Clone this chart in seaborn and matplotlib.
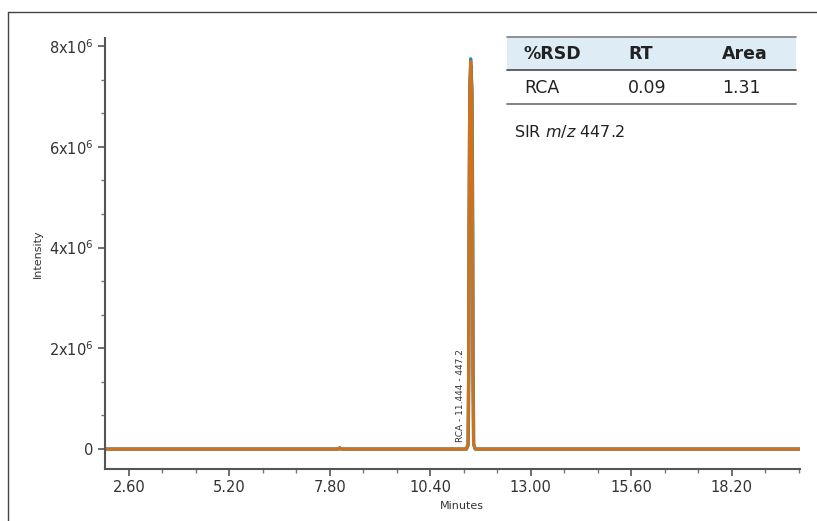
import numpy as np
import pandas as pd
import seaborn as sns
import matplotlib.pyplot as plt
from matplotlib.lines import Line2D
from matplotlib.patches import Rectangle
from matplotlib.ticker import FuncFormatter, AutoMinorLocator, FixedLocator

# --- data (intensity in units of 1e6) ---
time_min = [1.98, 8.02, 8.05, 8.08, 11.33, 11.372, 11.388, 11.398, 11.418,
            11.444, 11.470, 11.490, 11.500, 11.516, 11.558, 19.96]
int_blue = [0, 0, 0.02, 0, 0, 0.10, 1.50, 4.55, 7.25, 7.75, 7.20, 4.50, 1.45, 0.10, 0, 0]
int_teal = [0, 0, 0.02, 0, 0, 0.08, 1.40, 4.40, 7.10, 7.62, 7.05, 4.40, 1.40, 0.08, 0, 0]
int_orange = [0, 0, 0.03, 0, 0, 0.10, 1.48, 4.50, 7.18, 7.70, 7.12, 4.45, 1.42, 0.10, 0, 0]

x_ticks = [2.6, 5.2, 7.8, 10.4, 13.0, 15.6, 18.2]
y_ticks = [0, 2e6, 4e6, 6e6, 8e6]

table_header = ["%RSD", "RT", "Area"]
table_row = ["RCA", "0.09", "1.31"]

reps = ["rep1", "rep2", "rep3"]
colors = {"rep1": "#1b8ac4", "rep2": "#3b8c8f", "rep3": "#d2711b"}
shifts = {"rep1": 0.0, "rep2": 0.01, "rep3": 0.0}  # small RT offset between injections

frames = []
for rep, vals in zip(reps, [int_blue, int_teal, int_orange]):
    frames.append(pd.DataFrame({"time": np.array(time_min) + shifts[rep],
                                "intensity": np.array(vals) * 1e6,
                                "rep": rep}))
df = pd.concat(frames, ignore_index=True)

# --- plot ---
sns.set_style("ticks")
plt.rcParams["font.family"] = ["DejaVu Sans"]

fig = plt.figure(figsize=(8.17, 5.21), dpi=100)
ax = fig.add_axes([0.1285, 0.0998, 0.8505, 0.8272])

sns.lineplot(data=df, x="time", y="intensity", hue="rep", palette=colors,
             estimator=None, sort=False, linewidth=2.2, legend=False, ax=ax)

ax.set_xlim(1.98, 19.96)
ax.set_ylim(-0.396e6, 8.16e6)

ax.xaxis.set_major_locator(FixedLocator(x_ticks))
ax.yaxis.set_major_locator(FixedLocator(y_ticks))
ax.xaxis.set_minor_locator(AutoMinorLocator(3))
ax.yaxis.set_minor_locator(AutoMinorLocator(3))
ax.xaxis.set_major_formatter(FuncFormatter(lambda v, p: f"{v:.2f}"))


def sci_fmt(v, p):
    if v == 0:
        return "0"
    return f"{int(round(v / 1e6))}x10$^6$"


ax.yaxis.set_major_formatter(FuncFormatter(sci_fmt))

sns.despine(ax=ax)
for side in ["left", "bottom"]:
    ax.spines[side].set_color("#555555")
    ax.spines[side].set_linewidth(1.5)
ax.tick_params(axis="both", which="major", length=5, width=1.2, color="#555555",
               labelsize=10.5, labelcolor="#333333", pad=3)
ax.tick_params(axis="both", which="minor", length=3, width=1.0, color="#777777")

ax.set_xlabel("Minutes", fontsize=8, color="#333333")
ax.set_ylabel("Intensity", fontsize=8, color="#333333")
ax.xaxis.set_label_coords(0.513, -0.075)
ax.yaxis.set_label_coords(-0.09, 0.5)

# peak label
ax.text(11.17, 0.15e6, "RCA - 11.444 - 447.2", rotation=90, fontsize=6.5,
        color="#333333", ha="center", va="bottom")

# --- outer frame (left and top only) ---
fc = "#444444"
fig.add_artist(Line2D([8 / 817, 8 / 817], [0, 1 - 12 / 521], color=fc, lw=1.0,
                      transform=fig.transFigure))
fig.add_artist(Line2D([8 / 817, 1], [1 - 12 / 521, 1 - 12 / 521], color=fc, lw=1.0,
                      transform=fig.transFigure))

# --- %RSD table ---
def fx(px):
    return px / 817


def fy(py):
    return 1 - py / 521


t_left, t_right = 507, 796
fig.add_artist(Rectangle((fx(t_left), fy(70)), fx(t_right) - fx(t_left), fy(37) - fy(70),
                         facecolor="#deedf5", edgecolor="none", transform=fig.transFigure))
for yy, col in [(37, "#888888"), (70, "#555555"), (104, "#777777")]:
    fig.add_artist(Line2D([fx(t_left), fx(t_right)], [fy(yy), fy(yy)], color=col, lw=1.3,
                          transform=fig.transFigure))

col_x = [524, 628, 722]
for cx, h in zip(col_x, table_header):
    fig.text(fx(cx), fy(54), h, fontsize=12.5, fontweight="bold", color="#222222",
             ha="left", va="center")
for cx, v in zip(col_x, table_row):
    fig.text(fx(cx), fy(88), v, fontsize=12.5, color="#222222", ha="left", va="center")

fig.text(fx(514), fy(131), "SIR $m/z$ 447.2", fontsize=11.5, color="#222222",
         ha="left", va="center")

fig.savefig("out.png", dpi=100)
